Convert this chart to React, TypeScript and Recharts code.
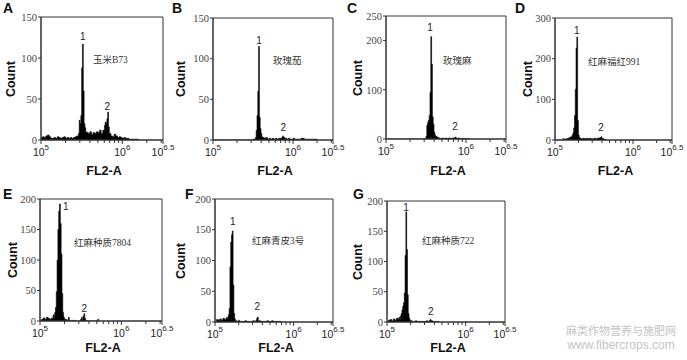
import React from 'react';
import { AreaChart, Area, XAxis, YAxis, ReferenceArea, ReferenceDot } from 'recharts';

type Bin = [number, number]; // [log10(FL2-A), count]

const histA: Bin[] = [
  [5.0, 3], [5.02, 4], [5.04, 3], [5.06, 5], [5.08, 6], [5.1, 4], [5.12, 2], [5.14, 2], [5.16, 3], [5.18, 2],
  [5.2, 4], [5.22, 3], [5.24, 2], [5.26, 3], [5.28, 4], [5.3, 2], [5.32, 3], [5.34, 2], [5.36, 3], [5.38, 2],
  [5.4, 3], [5.42, 4], [5.44, 5], [5.46, 8], [5.47, 24], [5.48, 20], [5.49, 30], [5.5, 88], [5.51, 117], [5.52, 60],
  [5.53, 20], [5.54, 15], [5.55, 10], [5.56, 9], [5.58, 8], [5.6, 10], [5.62, 7], [5.64, 9], [5.66, 8], [5.68, 10],
  [5.7, 9], [5.72, 12], [5.74, 8], [5.76, 12], [5.78, 18], [5.79, 22], [5.8, 20], [5.81, 26], [5.82, 34], [5.83, 16],
  [5.84, 8], [5.86, 5], [5.88, 4], [5.9, 7], [5.92, 5], [5.94, 3], [5.96, 4], [5.98, 3], [6.0, 2], [6.02, 3],
  [6.04, 2], [6.06, 2], [6.08, 1], [6.12, 1], [6.16, 1], [6.2, 0],
];
const histB: Bin[] = [
  [5.0, 0], [5.5, 1], [5.53, 3], [5.54, 12], [5.55, 30], [5.56, 60], [5.57, 115], [5.58, 28], [5.59, 14], [5.6, 8],
  [5.61, 4], [5.62, 3], [5.64, 2], [5.66, 3], [5.68, 1], [5.7, 2], [5.72, 1], [5.74, 2], [5.76, 1], [5.78, 2],
  [5.8, 1], [5.82, 2], [5.84, 2], [5.86, 3], [5.87, 5], [5.88, 3], [5.9, 2], [5.92, 1], [5.94, 2], [5.96, 1],
  [5.98, 1], [6.0, 2], [6.02, 1], [6.06, 1], [6.1, 2], [6.14, 1], [6.18, 1], [6.22, 1], [6.26, 1], [6.3, 0],
];
const histC: Bin[] = [
  [5.0, 0], [5.48, 1], [5.5, 6], [5.51, 28], [5.52, 34], [5.53, 38], [5.54, 48], [5.55, 95], [5.56, 208], [5.57, 152],
  [5.58, 45], [5.59, 30], [5.6, 14], [5.61, 8], [5.62, 5], [5.64, 3], [5.66, 2], [5.68, 1], [5.7, 2], [5.72, 1],
  [5.74, 2], [5.76, 1], [5.78, 2], [5.8, 1], [5.82, 2], [5.84, 2], [5.86, 4], [5.87, 3], [5.88, 1], [5.9, 2],
  [5.92, 1], [5.96, 1], [6.0, 1], [6.04, 0],
];
const histD: Bin[] = [
  [5.0, 0], [5.1, 3], [5.12, 2], [5.14, 3], [5.16, 4], [5.18, 6], [5.2, 8], [5.22, 12], [5.23, 18], [5.24, 30],
  [5.25, 60], [5.26, 125], [5.27, 226], [5.28, 253], [5.29, 48], [5.3, 12], [5.31, 6], [5.32, 4], [5.34, 3], [5.36, 4],
  [5.38, 3], [5.4, 4], [5.42, 3], [5.44, 4], [5.46, 3], [5.48, 3], [5.5, 4], [5.52, 3], [5.54, 4], [5.56, 5],
  [5.58, 6], [5.59, 8], [5.6, 4], [5.62, 2], [5.64, 1], [5.66, 0],
];
const histE: Bin[] = [
  [5.0, 0], [5.02, 3], [5.04, 5], [5.06, 3], [5.08, 6], [5.1, 4], [5.12, 3], [5.14, 5], [5.15, 4], [5.16, 10],
  [5.17, 6], [5.18, 14], [5.19, 22], [5.2, 48], [5.21, 100], [5.22, 150], [5.23, 180], [5.24, 192], [5.25, 160], [5.26, 110],
  [5.27, 45], [5.28, 14], [5.29, 6], [5.3, 3], [5.32, 2], [5.34, 1], [5.35, 6], [5.36, 1], [5.38, 0], [5.4, 1],
  [5.44, 0], [5.5, 3], [5.51, 6], [5.52, 2], [5.53, 8], [5.54, 12], [5.55, 4], [5.56, 1], [5.58, 0], [5.71, 3],
  [5.72, 0],
];
const histF: Bin[] = [
  [5.0, 0], [5.02, 4], [5.04, 3], [5.06, 5], [5.08, 3], [5.1, 6], [5.12, 4], [5.14, 7], [5.15, 5], [5.16, 8],
  [5.17, 12], [5.18, 22], [5.19, 90], [5.2, 130], [5.21, 142], [5.22, 148], [5.23, 60], [5.24, 14], [5.25, 5], [5.26, 2],
  [5.28, 1], [5.3, 3], [5.31, 1], [5.34, 1], [5.38, 2], [5.4, 1], [5.44, 1], [5.48, 2], [5.5, 1], [5.52, 3],
  [5.53, 6], [5.54, 8], [5.55, 2], [5.58, 1], [5.62, 1], [5.66, 2], [5.68, 1], [5.72, 2], [5.74, 1], [5.8, 1],
  [5.84, 0],
];
const histG: Bin[] = [
  [5.0, 0], [5.02, 3], [5.04, 4], [5.06, 2], [5.08, 5], [5.1, 3], [5.12, 6], [5.14, 4], [5.15, 8], [5.16, 5],
  [5.17, 10], [5.18, 14], [5.19, 20], [5.2, 26], [5.21, 32], [5.22, 48], [5.23, 110], [5.24, 182], [5.25, 120], [5.26, 45],
  [5.27, 14], [5.28, 6], [5.29, 3], [5.3, 2], [5.32, 1], [5.36, 2], [5.38, 1], [5.44, 1], [5.5, 2], [5.52, 1],
  [5.54, 3], [5.55, 4], [5.56, 2], [5.58, 1], [5.62, 1], [5.66, 0],
];

const panelLetters = ['A', 'B', 'C', 'D', 'E', 'F', 'G'];
const sampleNames = ['玉米B73', '玫瑰茄', '玫瑰麻', '红麻福红991', '红麻种质7804', '红麻青皮3号', '红麻种质722'];
const yMax = [150, 150, 250, 300, 200, 200, 200];
const yTicks = [
  [0, 50, 100, 150],
  [0, 50, 100, 150],
  [0, 100, 200, 250],
  [0, 100, 200, 300],
  [0, 50, 100, 150, 200],
  [0, 50, 100, 150, 200],
  [0, 50, 100, 150, 200],
];
// peak label anchors [x, count]
const peak1Labels: Bin[] = [[5.513, 126], [5.575, 123], [5.55, 227], [5.278, 270], [5.316, 187], [5.225, 163], [5.241, 190]];
const peak2Labels: Bin[] = [[5.816, 41], [5.879, 16], [5.862, 25], [5.59, 30], [5.545, 21], [5.537, 25], [5.555, 17]];
// sample name anchors [x, count]
const nameAnchors: Bin[] = [[5.627, 98], [5.737, 97], [5.7, 160], [5.41, 192], [5.406, 129], [5.457, 132], [5.432, 134]];

const xMajor = [5, 6, 6.5];
const minorMultiples = [2, 3, 4, 5, 6, 7, 8, 9];
const xTicks = [
  5,
  ...minorMultiples.map((m) => 5 + Math.log10(m)),
  6,
  6 + Math.log10(2),
  6 + Math.log10(3),
  6.5,
];

const histograms = [histA, histB, histC, histD, histE, histF, histG];

// layout: plot boxes in page pixels
const boxes = [
  { left: 41, top: 17, right: 163, bottom: 140, lx: 3, ly: 0, cx: 11 },
  { left: 213, top: 18, right: 333, bottom: 140, lx: 172, ly: 0, cx: 181 },
  { left: 386, top: 16, right: 506, bottom: 139, lx: 347, ly: 0, cx: 357.5 },
  { left: 555, top: 18, right: 672, bottom: 140, lx: 515, ly: 0, cx: 527.5 },
  { left: 40, top: 199, right: 162, bottom: 321, lx: 3, ly: 186, cx: 12.5 },
  { left: 215, top: 199, right: 333, bottom: 322, lx: 185, ly: 186, cx: 181 },
  { left: 387, top: 201, right: 505, bottom: 322, lx: 353, ly: 186, cx: 357.5 },
];

const SANS = '"Liberation Sans", Arial, sans-serif';
const SERIF = '"Liberation Serif", "Times New Roman", serif';
const CJK = '"Liberation Serif", "Noto Sans CJK SC", serif';

function LogTick(props: any) {
  const { x, y, payload } = props;
  const v = payload.value;
  const major = xMajor.some((t) => Math.abs(t - v) < 1e-6);
  return (
    <g>
      <line x1={x} y1={y} x2={x} y2={y + (major ? 4 : 3)} stroke="#333" strokeWidth={1} />
      {major && (
        <text x={x} y={y + 16} textAnchor="middle" fontSize={10.5} fontFamily={SANS} fill="#222">
          10
          <tspan dy={-6} fontSize={8}>{v === 6.5 ? '6.5' : String(v)}</tspan>
        </text>
      )}
    </g>
  );
}

function Panel({ i }: { i: number }) {
  const b = boxes[i];
  const ML = 34;
  const MT = 10;
  const MR = 16;
  const XH = 22;
  const w = b.right - b.left;
  const h = b.bottom - b.top;
  const data = histograms[i].map(([x, count]) => ({ x, count }));
  const row2 = i >= 4;
  const midY = (b.top + b.bottom) / 2;
  const midX = (b.left + b.right) / 2 + 2;
  const titleY = row2 ? 347.5 : 170;
  return (
    <>
      <div style={{ position: 'absolute', left: b.lx, top: b.ly, font: `bold 14px ${SANS}`, lineHeight: '16px', color: '#111' }}>
        {panelLetters[i]}
      </div>
      <div
        style={{
          position: 'absolute', left: b.cx - 30, top: midY - 7, width: 60, height: 14, lineHeight: '14px',
          textAlign: 'center', transform: 'rotate(-90deg)', font: `bold 12.5px ${SANS}`, color: '#111',
        }}
      >
        Count
      </div>
      <div
        style={{
          position: 'absolute', left: midX - 25, top: titleY - 6.5, width: 50, height: 13, lineHeight: '13px',
          textAlign: 'center', font: `bold 12.5px ${SANS}`, color: '#111',
        }}
      >
        FL2-A
      </div>
      <div style={{ position: 'absolute', left: b.left - ML, top: b.top - MT }}>
        <AreaChart
          width={ML + w + MR}
          height={MT + h + XH}
          data={data}
          margin={{ top: MT, right: MR, bottom: 0, left: 0 }}
          style={{ overflow: 'visible' }}
        >
          <XAxis
            type="number"
            dataKey="x"
            domain={[5, 6.5]}
            ticks={xTicks}
            interval={0}
            tick={<LogTick />}
            tickLine={false}
            tickSize={0}
            tickMargin={0}
            height={XH}
            axisLine={{ stroke: '#333' }}
            allowDataOverflow
          />
          <YAxis
            type="number"
            domain={[0, yMax[i]]}
            ticks={yTicks[i]}
            interval={0}
            width={ML}
            tickSize={3}
            tickMargin={1}
            tick={{ fontSize: 10.5, fontFamily: SERIF, fill: '#444' }}
            axisLine={{ stroke: '#333' }}
            tickLine={{ stroke: '#333' }}
            allowDataOverflow
          />
          <Area
            type="stepAfter"
            dataKey="count"
            stroke="#000"
            strokeWidth={0.6}
            fill="#000"
            fillOpacity={1}
            dot={false}
            activeDot={false}
            isAnimationActive={false}
          />
          <ReferenceArea x1={5} x2={6.5} y1={0} y2={yMax[i]} fill="none" stroke="#333" strokeWidth={1} ifOverflow="visible" />
          <ReferenceDot
            x={peak1Labels[i][0]}
            y={peak1Labels[i][1]}
            r={1}
            fill="none"
            stroke="none"
            label={{ value: '1', position: 'center', fontSize: 10, fontFamily: SANS, fill: '#222' }}
          />
          <ReferenceDot
            x={peak2Labels[i][0]}
            y={peak2Labels[i][1]}
            r={1}
            fill="none"
            stroke="none"
            label={{ value: '2', position: 'center', fontSize: 10, fontFamily: SANS, fill: '#222' }}
          />
          <ReferenceDot
            x={nameAnchors[i][0]}
            y={nameAnchors[i][1]}
            r={1}
            fill="none"
            stroke="none"
            label={{ value: sampleNames[i], position: 'right', offset: 0, fontSize: 9.5, fontFamily: CJK, fill: '#333' }}
          />
        </AreaChart>
      </div>
    </>
  );
}

export default function App() {
  return (
    <div style={{ position: 'absolute', left: 0, top: 0, width: 687, height: 360, background: '#fff', overflow: 'hidden' }}>
      {panelLetters.map((_, i) => (
        <Panel key={i} i={i} />
      ))}
      <div style={{ position: 'absolute', left: 560, top: 324, width: 122, height: 12, textAlign: 'center', font: `11px ${'"Noto Sans CJK SC", sans-serif'}`, color: '#c4c4c4', lineHeight: '12px' }}>
        麻类作物营养与施肥网
      </div>
      <div style={{ position: 'absolute', left: 560, top: 339, width: 122, height: 13, textAlign: 'center', font: `12px ${SANS}`, color: '#c4c4c4', lineHeight: '13px' }}>
        www.fibercrops.com
      </div>
    </div>
  );
}
